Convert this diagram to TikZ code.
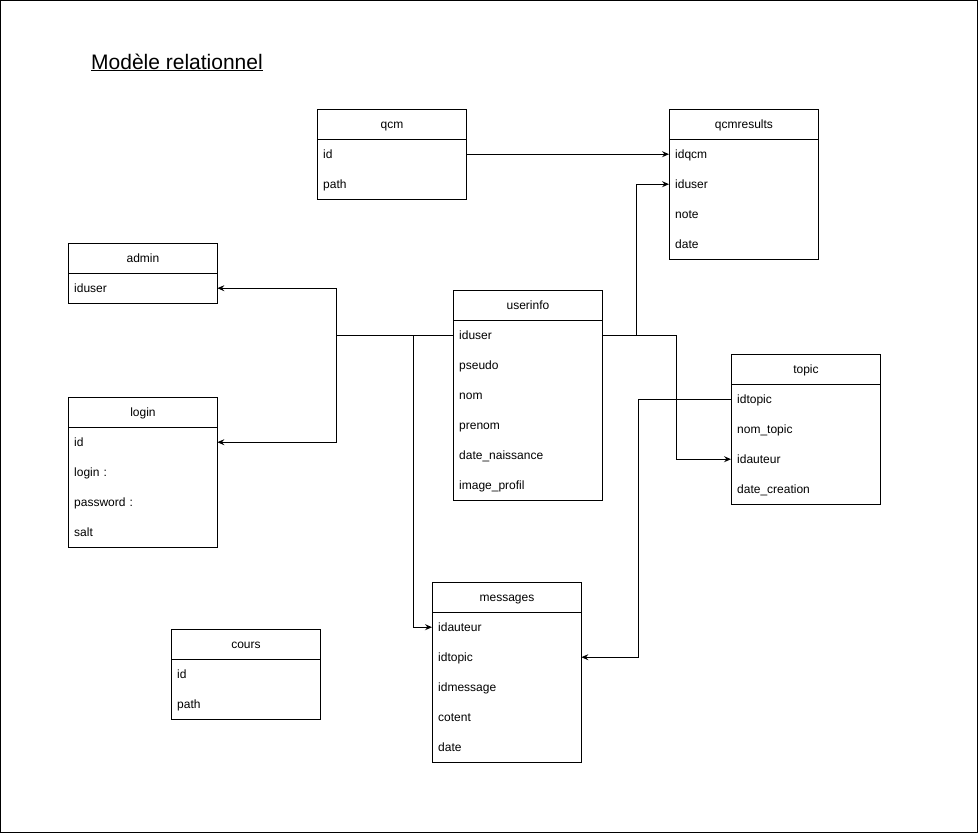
\documentclass[tikz,border=0pt]{standalone}
\usepackage{fontspec}
\setmainfont{Liberation Sans}
\usetikzlibrary{arrows.meta}
\tikzset{
  hdr/.style={draw, line width=0.9pt, minimum width=149pt, minimum height=30pt, inner sep=0pt, font=\fontsize{12}{14}\selectfont, text height=9.6pt, text depth=1.6pt},
  fld/.style={minimum height=30pt, inner xsep=6pt, inner ysep=0pt, text width=137pt, align=left, font=\fontsize{12}{14}\selectfont, text height=9.6pt, text depth=1.6pt},
  frm/.style={draw, line width=0.9pt},
  arr/.style={draw, line width=0.9pt, -{Stealth[length=7pt,width=6pt,inset=2.5pt]}},
}
\newcommand\mktable[6]{% name, x, y, title, nrows, fields
  \node[hdr, anchor=north west] (#1) at (#2,#3) {#4};
  \foreach \f [count=\i] in {#6} {
    \node[fld, anchor=north west] (#1-\i) at (#2,#3+30*\i) {\f};
  }
  \draw[frm] (#2,#3) rectangle (#2+149,#3+30+30*#5);
}
\begin{document}
\begin{tikzpicture}[x=1pt,y=-1pt]
\useasboundingbox (0,0) rectangle (978,833);
\draw[line width=1pt] (0.5,0.5) rectangle (977.5,832.5);
\node[anchor=base west, inner sep=0pt, font=\fontsize{21}{24}\selectfont] (title) at (91,69) {\underline{Modèle relationnel}};

\mktable{qcm}{317}{109}{qcm}{2}{id,path}
\mktable{qcmresults}{669}{109}{qcmresults}{4}{idqcm,iduser,note,date}
\mktable{admin}{68}{243}{admin}{1}{iduser}
\mktable{login}{68}{397}{login}{4}{id,login :,password :,salt}
\mktable{userinfo}{453}{290}{userinfo}{6}{iduser,pseudo,nom,prenom,date\_naissance,image\_profil}
\mktable{topic}{731}{354}{topic}{4}{idtopic,nom\_topic,idauteur,date\_creation}
\mktable{messages}{432}{582}{messages}{5}{idauteur,idtopic,idmessage,cotent,date}
\mktable{cours}{171}{629}{cours}{2}{id,path}

\draw[arr] (qcm-1.east) -- (qcmresults-1.west);
\draw[arr] (userinfo-1.east) -- ++(34,0) |- (qcmresults-2.west);
\draw[arr] (userinfo-1.east) -- ++(74,0) |- (topic-3.west);
\draw[arr] (userinfo-1.west) -- ++(-117,0) |- (admin-1.east);
\draw[arr] (userinfo-1.west) -- ++(-117,0) |- (login-1.east);
\draw[arr] (userinfo-1.west) -- ++(-40,0) |- (messages-1.west);
\draw[arr] (topic-1.west) -- ++(-93,0) |- (messages-2.east);
\end{tikzpicture}
\end{document}
